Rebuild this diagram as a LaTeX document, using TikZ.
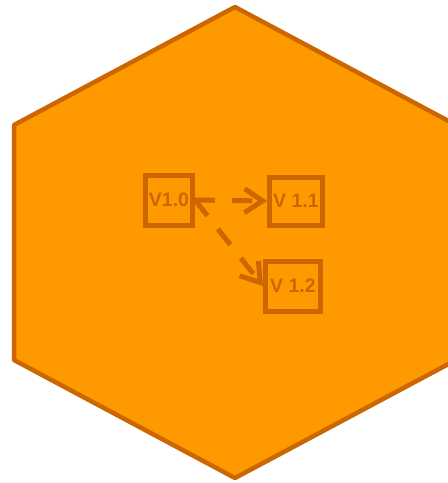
\documentclass[tikz,border=0pt]{standalone}
\usepackage{fontspec}
\setmainfont{Liberation Sans}
\usepackage{xcolor}
\usetikzlibrary{arrows.meta,positioning}
\definecolor{hexfill}{HTML}{FF9900}
\definecolor{hexline}{HTML}{CC6600}

\begin{document}
\begin{tikzpicture}[x=1pt,y=-1pt,
  version/.style={rectangle,draw=hexline,line width=5pt,text=hexline,font=\bfseries\fontsize{19.5}{19.5}\selectfont,inner sep=0pt},
  derive/.style={draw=hexline,line width=5pt,dash pattern=on 20pt off 17pt,-{Straight Barb[length=18pt,width=24pt]}}]
\clip (0,0) rectangle (448,483);
% Hexagon background
\filldraw[fill=hexfill,draw=hexline,line width=4.5pt,line join=round]
  (235,7) -- (456,125) -- (456,360) -- (235,478) -- (14,360) -- (14,125) -- cycle;

% Version boxes
\node[version,minimum width=47pt,minimum height=50pt] (v10) at (169,200) {V1.0};
\node[version,minimum width=53pt,minimum height=48pt] (v11) at (296,201) {V 1.1};
\node[version,minimum width=55pt,minimum height=50pt] (v12) at (293,286) {V 1.2};
\draw[derive] (v10.east) -- (v11.west);
\draw[derive] (v10.east) -- (v12.west);
\end{tikzpicture}
\end{document}
